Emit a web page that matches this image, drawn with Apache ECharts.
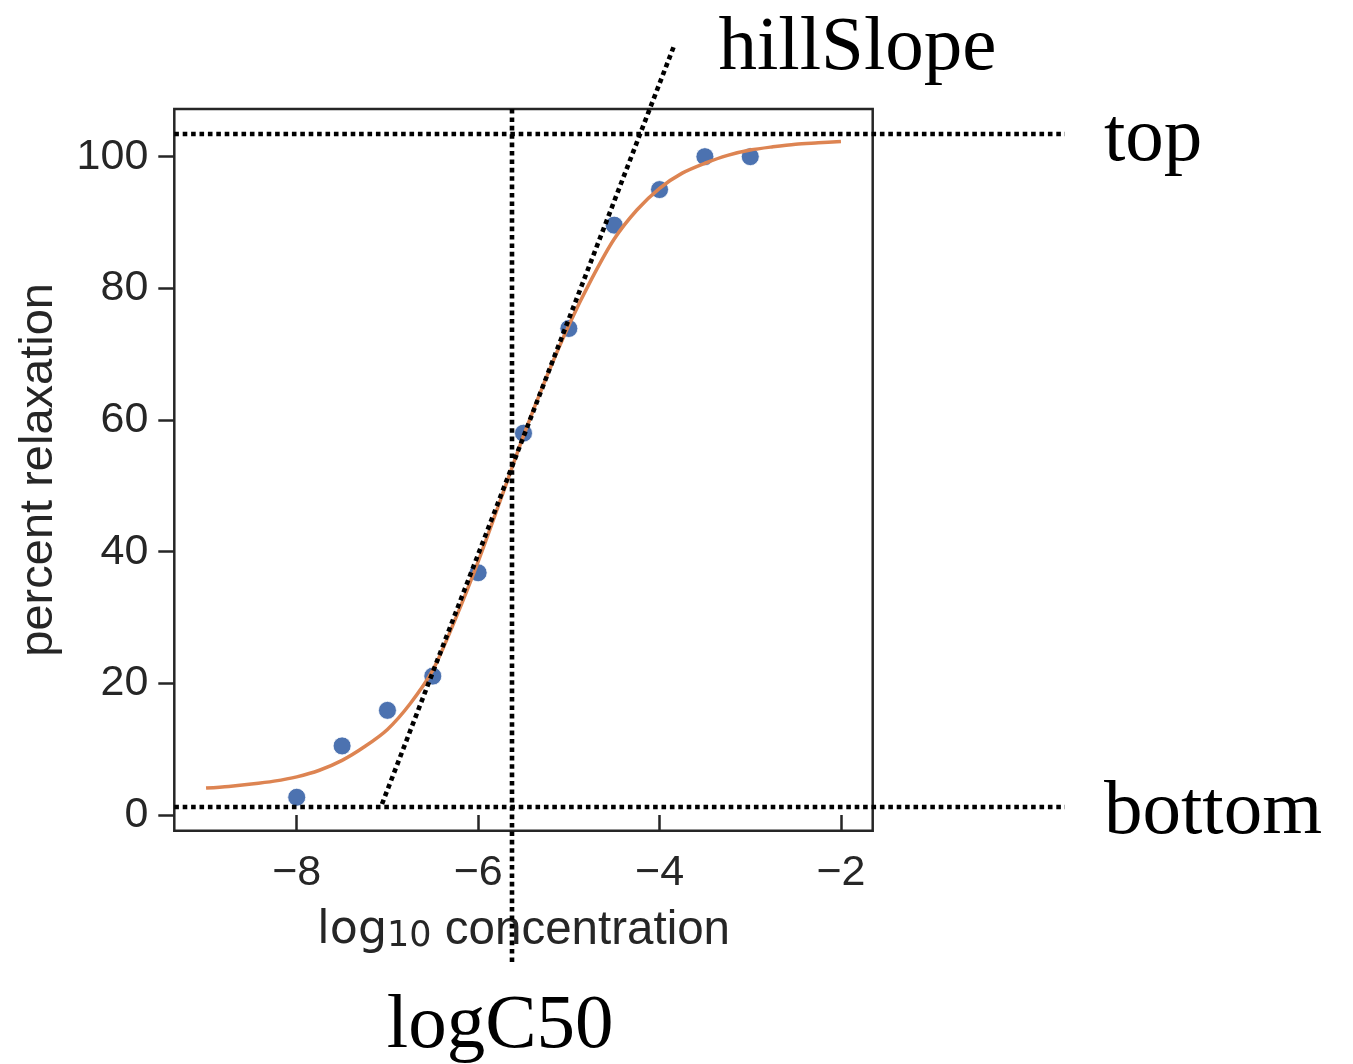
<!DOCTYPE html>
<html>
<head>
<meta charset="utf-8">
<script src="https://cdn.jsdelivr.net/npm/echarts@6/dist/echarts.min.js"></script>
<style>
  html, body { margin: 0; padding: 0; background: #fff; }
  #chart { width: 1353px; height: 1064px; }
</style>
</head>
<body>
<div id="chart"></div>
<script>
// Measured dose-response points (log10 molar concentration vs % relaxation)
const concentrations = [-8, -7.5, -7, -6.5, -6, -5.5, -5, -4.5, -4, -3.5, -3];
const relaxation = [2.7, 10.5, 15.9, 21.1, 36.8, 58.0, 73.9, 89.6, 95.0, 100.0, 100.0];

// Fitted sigmoid, sampled every quarter decade
const fitX = [-9, -8.75, -8.5, -8.25, -8, -7.75, -7.5, -7.25, -7, -6.75, -6.5, -6.25, -6, -5.75, -5.5, -5.25, -5, -4.75, -4.5, -4.25, -4, -3.75, -3.5, -3.25, -3, -2.75, -2.5, -2.25, -2];
const fitY = [4.1, 4.35, 4.7, 5.15, 5.8, 6.8, 8.3, 10.4, 13.0, 16.9, 22.0, 29.8, 38.5, 48.0, 57.6, 66.4, 74.4, 81.4, 87.5, 91.9, 95.2, 97.5, 99.0, 100.2, 101.0, 101.5, 101.9, 102.1, 102.3];

// Axis ticks
const xTicks = [-8, -6, -4, -2];
const yTicks = [0, 20, 40, 60, 80, 100];

// Parameter guides
const topLevel = 103.4;
const bottomLevel = 1.2;
const logC50 = -5.625;
const guideXSpan = [-9.35, 0.47];
const guideYSpan = [107.24, -22.8];
const slopeLineX = [-7.06, -3.844];
const slopeLineY = [1.67, 116.7];

// Parameter names and where they sit (left edge, vertical middle)
const annotationText = ['hillSlope', 'top', 'bottom', 'logC50'];
const annotationX = [-3.352, 0.899, 0.899, -7.008];
const annotationY = [116.45, 102.5, 0.3, -32.2];

const ink = '#262626';

// each guide segment as [x1, y1, x2, y2]
const guideSegments = [
  [guideXSpan[0], topLevel, guideXSpan[1], topLevel],
  [guideXSpan[0], bottomLevel, guideXSpan[1], bottomLevel],
  [logC50, guideYSpan[0], logC50, guideYSpan[1]],
  [slopeLineX[0], slopeLineY[0], slopeLineX[1], slopeLineY[1]]
];

const minusFmt = v => (v < 0 ? '\u2212' : '') + Math.abs(v);

const chart = echarts.init(document.getElementById('chart'), null, { renderer: 'canvas' });
chart.setOption({
  animation: false,
  backgroundColor: '#fff',
  grid: {
    left: 174.3, right: 480.3, top: 109, bottom: 233.3,
    containLabel: false,
    show: true,
    borderColor: ink,
    borderWidth: 2.5,
    backgroundColor: 'transparent'
  },
  xAxis: {
    type: 'value',
    min: -9.35,
    max: -1.65,
    splitLine: { show: false },
    axisLine: { show: false },
    axisTick: {
      show: true, inside: false, length: 15,
      customValues: xTicks,
      lineStyle: { color: ink, width: 2.5 }
    },
    axisLabel: {
      customValues: xTicks,
      formatter: minusFmt,
      fontFamily: 'Liberation Sans',
      fontSize: 43,
      lineHeight: 43,
      color: ink,
      margin: 21
    },
    name: '{m|log}{s|10}{t| concentration}',
    nameLocation: 'middle',
    nameGap: 77,
    nameTextStyle: {
      color: ink,
      rich: {
        m: { fontFamily: 'DejaVu Sans', fontSize: 46, lineHeight: 47, color: ink, verticalAlign: 'middle' },
        s: { fontFamily: 'DejaVu Sans', fontSize: 35, lineHeight: 18, color: ink, verticalAlign: 'bottom' },
        t: { fontFamily: 'Liberation Sans', fontSize: 47.5, lineHeight: 47, color: ink, verticalAlign: 'middle' }
      }
    }
  },
  yAxis: {
    type: 'value',
    min: -2.38,
    max: 107.24,
    splitLine: { show: false },
    axisLine: { show: false },
    axisTick: {
      show: true, inside: false, length: 16,
      customValues: yTicks,
      lineStyle: { color: ink, width: 2.5 }
    },
    axisLabel: {
      customValues: yTicks,
      formatter: minusFmt,
      fontFamily: 'Liberation Sans',
      fontSize: 43,
      lineHeight: 43,
      color: ink,
      margin: 26
    },
    name: 'percent relaxation',
    nameLocation: 'middle',
    nameGap: 112,
    nameTextStyle: {
      fontFamily: 'Liberation Sans',
      fontSize: 47,
      lineHeight: 47,
      color: ink
    }
  },
  series: [
    {
      name: 'measured',
      type: 'scatter',
      data: concentrations.map((x, i) => [x, relaxation[i]]),
      symbol: 'circle',
      symbolSize: 18,
      z: 2,
      itemStyle: { color: '#4C72B0', borderColor: '#ffffff', borderWidth: 0.8, opacity: 1 }
    },
    {
      name: 'fit',
      type: 'line',
      data: fitX.map((x, i) => [x, fitY[i]]),
      showSymbol: false,
      symbol: 'none',
      smooth: 0.3,
      z: 3,
      lineStyle: { color: '#DD8452', width: 3.5 }
    },
    {
      name: 'guides',
      type: 'custom',
      data: guideSegments,
      encode: { x: [0, 2], y: [1, 3] },
      clip: false,
      silent: true,
      z: 5,
      renderItem: function (params, api) {
        const a = api.coord([api.value(0), api.value(1)]);
        const b = api.coord([api.value(2), api.value(3)]);
        // keep axis-parallel guides on whole pixels so the dots stay crisp
        if (api.value(1) === api.value(3)) { a[1] = b[1] = Math.round(a[1]); }
        if (api.value(0) === api.value(2)) { a[0] = b[0] = Math.round(a[0]); }
        return {
          type: 'line',
          shape: { x1: a[0], y1: a[1], x2: b[0], y2: b[1] },
          style: { stroke: '#000000', lineWidth: 4.6, lineDash: [4.6, 3.8], lineCap: 'butt', fill: null, opacity: 1 }
        };
      }
    },
    {
      name: 'labels',
      type: 'scatter',
      data: annotationText.map((t, i) => ({ name: t, value: [annotationX[i], annotationY[i]] })),
      symbolSize: 0.1,
      clip: false,
      silent: true,
      z: 6,
      itemStyle: { color: 'transparent' },
      label: {
        show: true,
        formatter: '{b}',
        position: 'right',
        distance: 0,
        align: 'left',
        verticalAlign: 'middle',
        fontFamily: 'Liberation Serif',
        fontSize: 77,
        lineHeight: 77,
        color: '#000000',
        opacity: 1
      }
    }
  ]
});
</script>
</body>
</html>
